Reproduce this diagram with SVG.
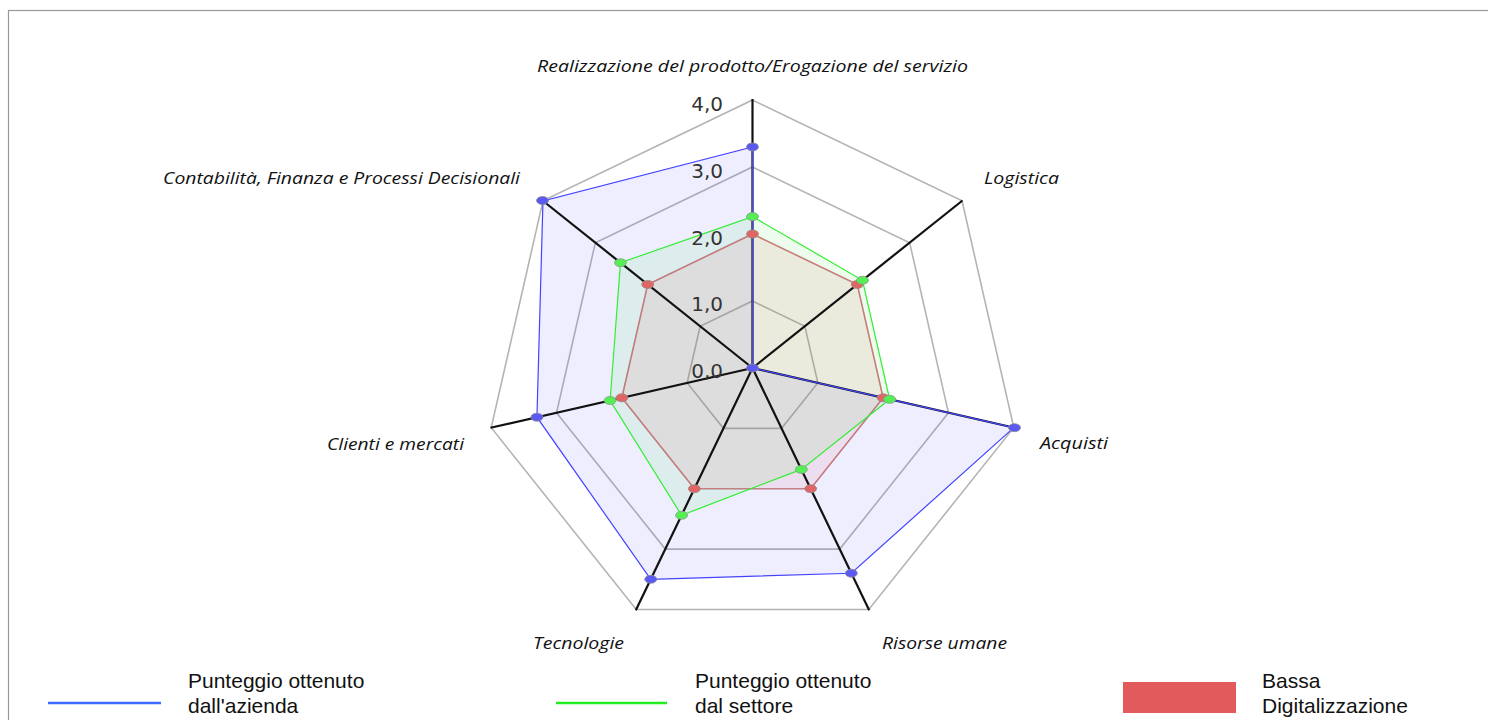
<svg xmlns="http://www.w3.org/2000/svg" width="1488" height="720" viewBox="0 0 1488 720">
<style>
.grid{fill:none;stroke:#b4b4b4;stroke-width:1.6}
.axis{stroke:#111;stroke-width:2.2}
.lbl{font-family:"Open Sans","DejaVu Sans",sans-serif;font-style:italic;font-size:17px;fill:#111}
.val{font-family:"DejaVu Sans","Liberation Sans",sans-serif;font-size:20px;fill:#333;text-anchor:end}
.leg{font-family:"Liberation Sans",Arial,sans-serif;font-size:21px;fill:#111}
.mb{fill:#5a5af0;stroke:#8a8a9a;stroke-width:0.8}
.mg{fill:#55ee55;stroke:#8a9a8a;stroke-width:0.8}
.mr{fill:#e06666;stroke:#9a8a8a;stroke-width:0.8}
</style>
<rect x="0" y="0" width="1488" height="720" fill="#ffffff"/>
<rect x="8.5" y="10.5" width="1490" height="720" fill="none" stroke="#999" stroke-width="1.2"/>

<g id="grid">
<polygon class="grid" points="752.5,301 804.88,326.23 817.82,382.91 781.57,428.37 723.43,428.37 687.18,382.91 700.12,326.23"/>
<polygon class="grid" points="752.5,234 857.27,284.45 883.14,397.82 810.64,488.73 694.36,488.73 621.86,397.82 647.73,284.45"/>
<polygon class="grid" points="752.5,167 909.65,242.68 948.46,412.73 839.71,549.10 665.29,549.10 556.54,412.73 595.35,242.68"/>
<polygon class="grid" points="752.5,100 962.03,200.90 1013.78,427.64 868.78,609.46 636.22,609.46 491.22,427.64 542.97,200.90"/>
</g>

<g id="fills">
<polygon points="752.5,146.9 752.5,368 1013.78,427.64 851.34,573.24 650.75,579.28 536.94,417.2 542.97,200.9" fill="#5555ff" fill-opacity="0.1"/>
<polygon points="752.5,216.58 862.5,280.27 889.67,399.31 801.34,469.41 681.57,515.29 610.1,400.5 620.49,262.73" fill="#33dd33" fill-opacity="0.09"/>
<polygon points="752.5,234 857.27,284.45 883.14,397.82 810.64,488.73 694.36,488.73 621.86,397.82 647.73,284.45" fill="#e05555" fill-opacity="0.1"/>
</g>

<g id="axes">
<line class="axis" x1="752.5" y1="368" x2="752.5" y2="99"/>
<line class="axis" x1="752.5" y1="368" x2="962.5" y2="200.5"/>
<line class="axis" x1="752.5" y1="368" x2="1014.5" y2="427.8"/>
<line class="axis" x1="752.5" y1="368" x2="869.2" y2="610.3"/>
<line class="axis" x1="752.5" y1="368" x2="635.8" y2="610.3"/>
<line class="axis" x1="752.5" y1="368" x2="490.5" y2="427.8"/>
<line class="axis" x1="752.5" y1="368" x2="542.5" y2="200.5"/>
</g>

<g id="connectors">
<polygon points="752.5,234 857.27,284.45 883.14,397.82 810.64,488.73 694.36,488.73 621.86,397.82 647.73,284.45" fill="none" stroke="#e06060" stroke-opacity="0.75" stroke-width="1.2"/>
<polygon points="752.5,216.58 862.5,280.27 889.67,399.31 801.34,469.41 681.57,515.29 610.1,400.5 620.49,262.73" fill="none" stroke="#33ee33" stroke-width="1.2"/>
<polygon points="752.5,146.9 752.5,368 1013.78,427.64 851.34,573.24 650.75,579.28 536.94,417.2 542.97,200.9" fill="none" stroke="#4444ff" stroke-width="1.2"/>
</g>

<g id="markers-red">
<ellipse class="mr" cx="752.5" cy="234" rx="6" ry="4"/>
<ellipse class="mr" cx="857.27" cy="284.45" rx="6" ry="4"/>
<ellipse class="mr" cx="883.14" cy="397.82" rx="6" ry="4"/>
<ellipse class="mr" cx="810.64" cy="488.73" rx="6" ry="4"/>
<ellipse class="mr" cx="694.36" cy="488.73" rx="6" ry="4"/>
<ellipse class="mr" cx="621.86" cy="397.82" rx="6" ry="4"/>
<ellipse class="mr" cx="647.73" cy="284.45" rx="6" ry="4"/>
</g>
<g id="markers-green">
<ellipse class="mg" cx="752.5" cy="216.58" rx="6" ry="4"/>
<ellipse class="mg" cx="862.5" cy="280.27" rx="6" ry="4"/>
<ellipse class="mg" cx="889.67" cy="399.31" rx="6" ry="4"/>
<ellipse class="mg" cx="801.34" cy="469.41" rx="6" ry="4"/>
<ellipse class="mg" cx="681.57" cy="515.29" rx="6" ry="4"/>
<ellipse class="mg" cx="610.1" cy="400.5" rx="6" ry="4"/>
<ellipse class="mg" cx="620.49" cy="262.73" rx="6" ry="4"/>
</g>
<g id="markers-blue">
<ellipse class="mb" cx="752.5" cy="146.9" rx="6" ry="4"/>
<ellipse class="mb" cx="752.5" cy="368" rx="6" ry="4"/>
<ellipse class="mb" cx="1014.5" cy="427.7" rx="6" ry="4"/>
<ellipse class="mb" cx="851.34" cy="573.24" rx="6" ry="4"/>
<ellipse class="mb" cx="650.75" cy="579.28" rx="6" ry="4"/>
<ellipse class="mb" cx="536.94" cy="417.2" rx="6" ry="4"/>
<ellipse class="mb" cx="542.5" cy="200.5" rx="6" ry="4"/>
</g>

<g id="scale">
<text class="val" x="723" y="111">4,0</text>
<text class="val" x="723" y="178">3,0</text>
<text class="val" x="723" y="245">2,0</text>
<text class="val" x="723" y="311">1,0</text>
<text class="val" x="723" y="378">0,0</text>
</g>

<g id="axis-labels">
<text class="lbl" x="537" y="72" textLength="431" lengthAdjust="spacingAndGlyphs">Realizzazione del prodotto/Erogazione del servizio</text>
<text class="lbl" x="984" y="184" textLength="75" lengthAdjust="spacingAndGlyphs">Logistica</text>
<text class="lbl" x="1040" y="449" textLength="68" lengthAdjust="spacingAndGlyphs">Acquisti</text>
<text class="lbl" x="882" y="649" textLength="125" lengthAdjust="spacingAndGlyphs">Risorse umane</text>
<text class="lbl" x="533" y="649" textLength="91" lengthAdjust="spacingAndGlyphs">Tecnologie</text>
<text class="lbl" x="327" y="450" textLength="137" lengthAdjust="spacingAndGlyphs">Clienti e mercati</text>
<text class="lbl" x="163" y="184" textLength="357" lengthAdjust="spacingAndGlyphs">Contabilità, Finanza e Processi Decisionali</text>
</g>

<g id="legend-azienda">
<line x1="48" y1="703" x2="161" y2="703" stroke="#3d6bff" stroke-width="2.6"/>
<text class="leg" x="188" y="688">Punteggio ottenuto</text>
<text class="leg" x="188" y="713">dall'azienda</text>
</g>
<g id="legend-settore">
<line x1="556" y1="703" x2="667" y2="703" stroke="#22ee22" stroke-width="2.6"/>
<text class="leg" x="695" y="688">Punteggio ottenuto</text>
<text class="leg" x="695" y="713">dal settore</text>
</g>
<g id="legend-bassa">
<rect x="1123" y="682" width="113" height="31" fill="#e25a5c"/>
<text class="leg" x="1262" y="688">Bassa</text>
<text class="leg" x="1262" y="713">Digitalizzazione</text>
</g>
</svg>
